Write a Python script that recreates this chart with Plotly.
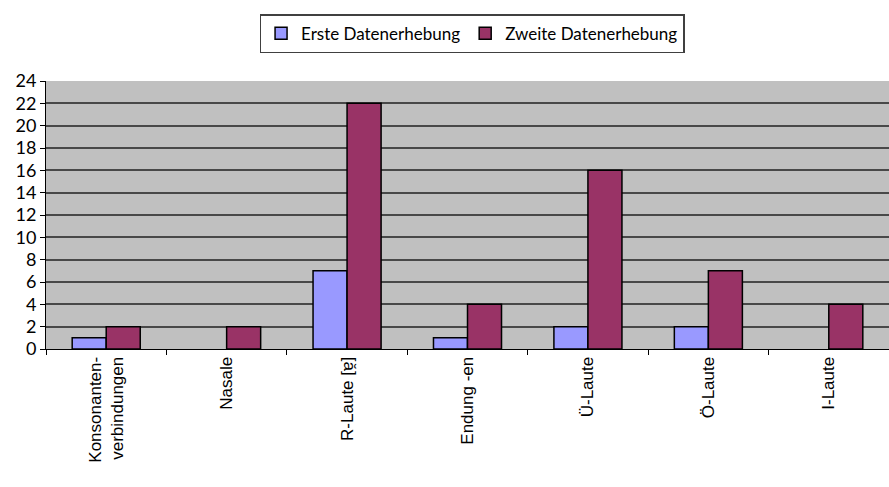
import plotly.graph_objects as go

categories = ["Konsonanten-<br>verbindungen", "Nasale", "R-Laute [ɐ̯]", "Endung -en",
              "Ü-Laute", "Ö-Laute", "I-Laute"]
erste = [1, 0, 7, 1, 2, 2, 0]
zweite = [2, 2, 22, 4, 16, 7, 4]
y_ticks = list(range(0, 25, 2))

font = "Lato, Open Sans, sans-serif"


def outline(values):
    return [1.5 if v else 0 for v in values]


fig = go.Figure()
fig.add_trace(go.Bar(x=categories, y=erste, name="Erste Datenerhebung",
                     marker=dict(color="#9999FF", line=dict(color="black", width=outline(erste)))))
fig.add_trace(go.Bar(x=categories, y=zweite, name="Zweite Datenerhebung",
                     marker=dict(color="#993366", line=dict(color="black", width=outline(zweite)))))

fig.update_layout(
    width=889, height=487,
    margin=dict(l=46, r=0, t=81, b=138, autoexpand=False),
    paper_bgcolor="white", plot_bgcolor="#C0C0C0",
    barmode="group", bargap=0.435, bargroupgap=0,
    font=dict(family=font, size=17, color="black"),
    legend=dict(orientation="h", xref="container", yref="container",
                x=0.531, y=0.971, xanchor="center", yanchor="top",
                bordercolor="#404040", borderwidth=1.5,
                font=dict(size=17), itemwidth=30, tracegroupgap=0),
    showlegend=True,
)
fig.update_xaxes(tickangle=-90, showline=True, linecolor="black", linewidth=1,
                 ticks="outside", ticklen=5, tickcolor="black", tickson="boundaries",
                 tickfont=dict(family="Liberation Sans, Arial, sans-serif", size=17),
                 showgrid=False, automargin=False)
fig.update_yaxes(range=[0, 24], tickvals=y_ticks, showline=True, linecolor="black",
                 linewidth=1, ticks="outside", ticklen=5, tickcolor="black",
                 showgrid=True, gridcolor="#484848", gridwidth=2,
                 zeroline=False, tickfont=dict(size=18), automargin=False)

fig.write_html("out.html", config={"displayModeBar": False},
               post_script="document.body.style.margin='0';document.body.style.overflow='hidden';")
